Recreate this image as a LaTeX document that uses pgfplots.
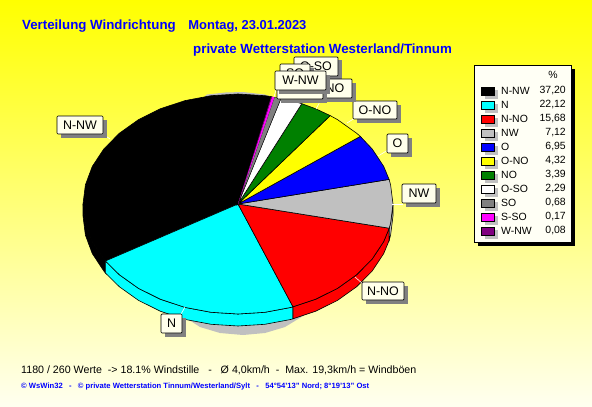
\documentclass[border=0pt]{standalone}
\usepackage{pgfplots}
\pgfplotsset{compat=1.18}
\usepackage{fontspec}
\setmainfont{Liberation Sans}

\definecolor{wsblue}{RGB}{0,0,255}
\definecolor{wscyan}{RGB}{0,255,255}
\definecolor{wsred}{RGB}{255,0,0}
\definecolor{wsyellow}{RGB}{255,255,0}
\definecolor{wsmagenta}{RGB}{255,0,255}
\definecolor{wsgreen}{RGB}{0,128,0}
\definecolor{wsgray}{RGB}{192,192,192}
\definecolor{wsdark}{RGB}{128,128,128}
\definecolor{wspurple}{RGB}{128,0,128}
\definecolor{cream}{RGB}{255,255,235}
\definecolor{legbg}{RGB}{255,255,245}
\definecolor{bgbottom}{RGB}{255,255,240}

% label with shadow: centre x, centre y, width, height, text
\newcommand{\lab}[5]{%
  \fill[wsdark] (axis cs:#1-#3/2+3.5,#2-#4/2+3.5) rectangle (axis cs:#1+#3/2+3.5,#2+#4/2+3.5);
  \draw[black,line width=0.7bp,fill=cream,rounded corners=1bp] (axis cs:#1-#3/2,#2-#4/2) rectangle (axis cs:#1+#3/2,#2+#4/2);
  \node[font=\fontsize{12.5}{13}\selectfont] at (axis cs:#1,#2) {#5};}
% legend row: y, colour, name, value
\newcommand{\legrow}[4]{%
  \fill[wsgray] (axis cs:485,#1-1) rectangle (axis cs:498,#1+8);
  \draw[black,line width=0.7bp,fill=#2] (axis cs:481,#1-4) rectangle (axis cs:494,#1+4);
  \node[anchor=west,inner sep=0pt,font=\fontsize{10.5}{11}\selectfont] at (axis cs:501,#1) {#3};
  \node[anchor=east,inner sep=0pt,font=\fontsize{10.5}{11}\selectfont] at (axis cs:566,#1) {#4};}

\begin{document}
\begin{tikzpicture}
\begin{axis}[
    scale only axis,
    width=592bp, height=407bp,
    xmin=0, xmax=592,
    ymin=0, ymax=407,
    y dir=reverse,
    hide axis,
    clip=true,
    pie/.style={draw=black,line width=0.6bp},
]
  % background
  \shade[top color=wsyellow,bottom color=bgbottom] (axis cs:0,0) rectangle (axis cs:592,407);

  % shadow under the pie
  \addplot[fill=wsgray,draw=none] coordinates {
    (243,92) (265,94.5) (272,97) (290,108) (320,140) (340,180) (350,214) (340,260) (320,300)
    (303,316) (285,327) (265,333) (243,335) (220,333) (200,327) (183,316) (165,290)
    (150,250) (140,214) (150,170) (170,130) (207,94.5) (225,92.5)} --cycle;

  % side of the pie, 12 px deep
  \addplot[fill=black,pie] coordinates {
    (83,204) (85.4,223.1) (92.3,241.6) (103.8,259) (105.4,261)
    (105.4,273) (103.8,271) (92.3,253.6) (85.4,235.1) (83,216)} --cycle;
  \addplot[fill=wscyan,pie] coordinates {
    (105.4,261) (119.3,274.7) (138.4,288.3) (160.5,299.3) (185,307.4) (211.1,312.3) (238,314) (264.9,312.3) (291,307.4) (293,306.8)
    (293,318.8) (291,319.4) (264.9,324.3) (238,326) (211.1,324.3) (185,319.4) (160.5,311.3) (138.4,300.3) (119.3,286.7) (105.4,273)} --cycle;
  \addplot[fill=wsred,pie] coordinates {
    (293,306.8) (315.5,299.3) (337.6,288.3) (356.7,274.7) (372.2,259) (383.7,241.6) (389.2,228.2)
    (389.2,240.2) (383.7,253.6) (372.2,271) (356.7,286.7) (337.6,300.3) (315.5,311.3) (293,318.8)} --cycle;
  \addplot[fill=wsgray,pie] coordinates {
    (393,204) (390.6,223.1) (389.2,228.2) (389.2,240.2) (390.6,235.1) (393,216)} --cycle;

  % top of the pie
  \addplot[fill=black,pie] coordinates {
    (238,204) (272.1,96.7) (264.9,95.7) (238,94) (211.1,95.7) (185,100.6) (160.5,108.7) (138.4,119.7) (119.3,133.3)
    (103.8,149) (92.3,166.4) (85.4,184.9) (83,204) (85.4,223.1) (92.3,241.6) (103.8,259) (105.4,261)} --cycle;
  \addplot[fill=wscyan,pie] coordinates {
    (238,204) (105.4,261) (119.3,274.7) (138.4,288.3) (160.5,299.3) (185,307.4) (211.1,312.3) (238,314) (264.9,312.3) (291,307.4) (293,306.8)} --cycle;
  \addplot[fill=wsred,pie] coordinates {
    (238,204) (293,306.8) (315.5,299.3) (337.6,288.3) (356.7,274.7) (372.2,259) (383.7,241.6) (389.2,228.2)} --cycle;
  \addplot[fill=wsgray,pie] coordinates {
    (238,204) (389.2,228.2) (390.6,223.1) (393,204) (390.6,184.9) (389.1,179.4)} --cycle;
  \addplot[fill=wsblue,pie] coordinates {
    (238,204) (389.1,179.4) (383.7,166.4) (372.2,149) (360.3,136.4)} --cycle;
  \addplot[fill=wsyellow,pie] coordinates {
    (238,204) (360.3,136.4) (356.7,133.3) (337.6,119.7) (330.2,115.6)} --cycle;
  \addplot[fill=wsgreen,pie] coordinates {
    (238,204) (330.2,115.6) (315.5,108.7) (301.8,103.7)} --cycle;
  \addplot[fill=white,pie] coordinates {
    (238,204) (301.8,103.7) (291,100.6) (281,98.3)} --cycle;
  \addplot[fill=wsdark,draw=black,line width=0.3bp] coordinates {(238,204) (281,98.3) (274.4,97.1)} --cycle;
  \addplot[fill=wsmagenta,draw=none] coordinates {(238,204) (274.4,97.1) (272,96.8)} --cycle;
  \addplot[fill=wspurple,draw=none] coordinates {(238,204) (272,96.8) (271.2,96.7)} --cycle;

  % leader lines
  \draw[white,line width=0.6bp] (axis cs:110,139) -- (axis cs:103,134);
  \draw[white,line width=0.6bp] (axis cs:185,307) -- (axis cs:180,316);
  \draw[white,line width=0.6bp] (axis cs:355,277) -- (axis cs:363,284);
  \draw[white,line width=0.6bp] (axis cs:392,204) -- (axis cs:403,204);
  \draw[white,line width=0.6bp] (axis cs:378,156) -- (axis cs:388,150);
  \draw[white,line width=0.6bp] (axis cs:347,123) -- (axis cs:355,118);
  \draw[white,line width=0.6bp] (axis cs:316,109) -- (axis cs:322,98);
  \draw[white,line width=0.6bp] (axis cs:274,97) -- (axis cs:276,90);

  % slice labels
  \lab{80}{125}{46}{18}{N-NW}
  \lab{171.5}{323.5}{21}{19}{N}
  \lab{383}{291}{42}{18}{N-NO}
  \lab{419}{193.5}{34}{19}{NW}
  \lab{397.5}{143.5}{21}{19}{O}
  \lab{375}{110}{44}{18}{O-NO}
  \lab{316}{66.5}{44}{19}{O-SO}
  \lab{295}{73}{30}{18}{SO}
  \lab{335}{88.5}{34}{19}{NO}
  \lab{300}{89.5}{46}{19}{S-SO}
  \lab{300.5}{80.5}{51}{19}{W-NW}

  % legend box
  \fill[black] (axis cs:478,69) rectangle (axis cs:575,246);
  \draw[black,line width=0.7bp,fill=legbg] (axis cs:474,65) rectangle (axis cs:571,242);
  \node[font=\fontsize{10.5}{11}\selectfont] at (axis cs:553,75) {\%};
  \legrow{91}{black}{N-NW}{37,20}
  \legrow{105}{wscyan}{N}{22,12}
  \legrow{119}{wsred}{N-NO}{15,68}
  \legrow{133}{wsgray}{NW}{7,12}
  \legrow{147}{wsblue}{O}{6,95}
  \legrow{161}{wsyellow}{O-NO}{4,32}
  \legrow{175}{wsgreen}{NO}{3,39}
  \legrow{189}{white}{O-SO}{2,29}
  \legrow{203}{wsdark}{SO}{0,68}
  \legrow{217}{wsmagenta}{S-SO}{0,17}
  \legrow{231}{wspurple}{W-NW}{0,08}

  % titles
  \node[anchor=west,inner sep=0pt,text=wsblue,font=\fontsize{13.35}{14}\bfseries] at (axis cs:22,26.5) {Verteilung Windrichtung\hspace{0.95em}\fontsize{13}{14}\selectfont Montag, 23.01.2023};
  \node[anchor=west,inner sep=0pt,text=wsblue,font=\fontsize{13.35}{14}\bfseries] at (axis cs:193,50.5) {private Wetterstation Westerland/Tinnum};
  \node[anchor=west,inner sep=0pt,font=\fontsize{10.7}{12}\selectfont] at (axis cs:21,370) {1180 / 260 Werte\ \ -> 18.1\% Windstille\ \ \ -\ \ \ Ø 4,0km/h\ \ -\ \ Max. 19,3km/h = Windböen};
  \node[anchor=west,inner sep=0pt,text=wsblue,font=\fontsize{7.65}{8}\bfseries] at (axis cs:21,387) {© WsWin32\ \ \ -\ \ \ © private Wetterstation Tinnum/Westerland/Sylt\ \ \ -\ \ \ 54°54'13" Nord; 8°19'13" Ost};
\end{axis}
\end{tikzpicture}
\end{document}
